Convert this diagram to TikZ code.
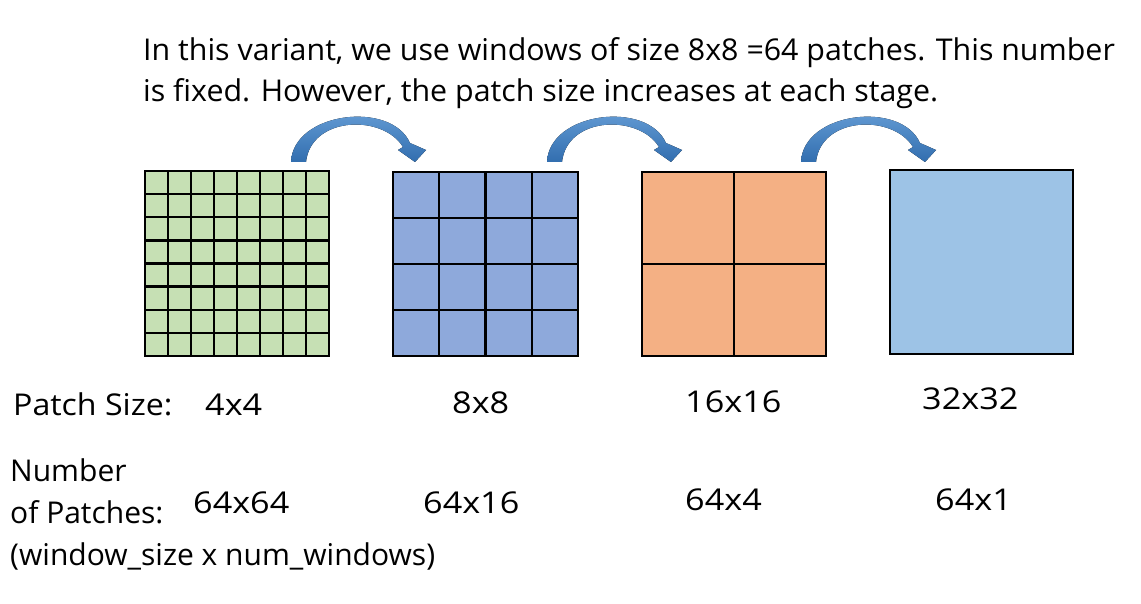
\documentclass[tikz,border=0pt]{standalone}
\usepackage{fontspec}
\setmainfont{Open Sans}
\newfontfamily\numfont[FakeStretch=1.14]{Open Sans}
\newfontfamily\psfont[FakeStretch=1.07]{Open Sans}
\newfontfamily\topfont[FakeStretch=1.012]{Open Sans}
\definecolor{pgreen}{RGB}{198,224,180}
\definecolor{pblue}{RGB}{142,169,219}
\definecolor{porange}{RGB}{244,176,132}
\definecolor{plight}{RGB}{157,195,230}
\definecolor{arrtop}{RGB}{110,165,220}
\definecolor{arrbot}{RGB}{50,110,175}
\newcommand\drawpanel[7]{%
  % #1 x0, #2 y0, #3 x1, #4 y1, #5 n, #6 colour, #7 name
  \node[panelbox, fill=#6, minimum width={#3-#1}, minimum height={#4-#2}] (#7) at ({(#1+#3)/2},{(#2+#4)/2}) {};
  \pgfmathsetmacro\nm{#5-1}
  \ifnum#5>1
    \foreach \i in {1,...,\nm} {
      \draw[gridline] ({#1+\i*(#3-#1)/#5},#2) -- ({#1+\i*(#3-#1)/#5},#4);
      \draw[gridline] (#1,{#2+\i*(#4-#2)/#5}) -- (#3,{#2+\i*(#4-#2)/#5});
    }
  \fi
}
\begin{document}
\begin{tikzpicture}[x=1pt,y=-1pt,
  panelbox/.style={draw=black, line width=2.6pt, inner sep=0pt, rectangle},
  gridline/.style={draw=black, line width=2.4pt},
  txt/.style={anchor=base west, inner sep=0pt, font=\fontsize{30}{36}\selectfont},
  toptxt/.style={anchor=base west, inner sep=0pt, font=\topfont\fontsize{30}{36}\selectfont},
  numtxt/.style={anchor=base west, inner sep=0pt, font=\numfont\fontsize{30}{36}\selectfont},
  pstxt/.style={anchor=base west, inner sep=0pt, font=\psfont\fontsize{30}{36}\selectfont},
  curvarrow/.style={top color=arrtop, bottom color=arrbot, draw=none}]
\useasboundingbox (0,0) rectangle (1141,604);
\fill[white] (0,0) rectangle (1141,604);

\node[toptxt] (line1) at (143,61) {In this variant, we use windows of size 8x8 =64 patches. This number};
\node[toptxt] (line2) at (143,102) {is fixed. However, the patch size increases at each stage.};

\drawpanel{145}{171}{329}{356}{8}{pgreen}{p1}
\drawpanel{393}{172}{578}{356}{4}{pblue}{p2}
\drawpanel{642}{172}{826}{356}{2}{porange}{p3}
\drawpanel{890}{170}{1073}{354}{1}{plight}{p4}

\foreach \sx/\nm in {291/a1,547/a2,801/a3} {
  \fill[curvarrow, shift={(\sx,162)}] (0,0) .. controls (2,-50) and (100,-62) .. (119,-19)
    -- (135,-12) -- (124,0) -- (107,-12) -- (112,-15)
    .. controls (92,-48) and (20,-46) .. (15,0) -- cycle;
}

\node[pstxt] (psl) at (13,415) {Patch Size:};
\node[numtxt] (ps1) at (205,415) {4x4};
\node[numtxt] (ps2) at (452,413) {8x8};
\node[numtxt] (ps3) at (685,412) {16x16};
\node[numtxt] (ps4) at (922,409) {32x32};

\node[txt] (npl1) at (10,481) {Number};
\node[txt] (npl2) at (10,523) {of Patches:};
\node[txt] (npl3) at (10,565) {(window\_size x num\_windows)};
\node[numtxt] (np1) at (193,513) {64x64};
\node[numtxt] (np2) at (423,513) {64x16};
\node[numtxt] (np3) at (685,510) {64x4};
\node[numtxt] (np4) at (935,510) {64x1};
\end{tikzpicture}
\end{document}
